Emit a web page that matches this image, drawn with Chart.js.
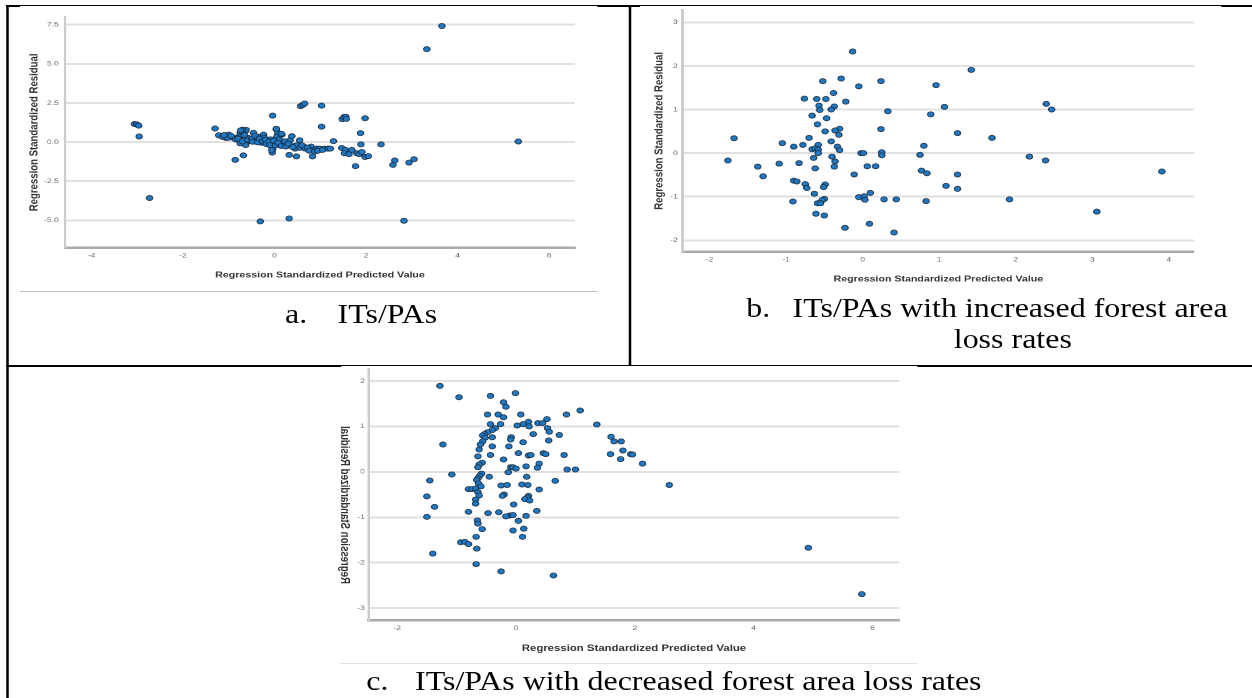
<!DOCTYPE html>
<html>
<head>
<meta charset="utf-8">
<script src="https://cdn.jsdelivr.net/npm/chart.js@4/dist/chart.umd.min.js"></script>
<style>
  body { margin: 0; background: #fff; }
  #page { position: absolute; left: 0; top: 0; width: 1002px; height: 698px; overflow: hidden;
          transform: scaleX(1.25); transform-origin: 0 0; }
  .line { position: absolute; }
  .black { background: #000; }
  .white { background: #fff; }
  canvas { position: absolute; }
  .cap { position: absolute; font-family: "Liberation Serif", "Times New Roman", serif; font-size: 27.5px;
         line-height: 30px; color: #000; white-space: nowrap;
         transform: scaleX(0.93); transform-origin: 0 0; }
  #titleC { position: absolute; font-family: "Liberation Sans", Arial, sans-serif; font-weight: bold;
            font-size: 9.6px; color: #333; white-space: nowrap;
            transform: translate(-50%, -50%) scaleX(-1) rotate(-90deg); }
</style>
</head>
<body>
<div id="page">
  <!-- table borders -->
  <div class="line black" style="left:5px;top:5px;width:997px;height:2px"></div>
  <div class="line white" style="left:16px;top:6px;width:462px;height:1px"></div>
  <div class="line white" style="left:512px;top:6px;width:465px;height:1px"></div>
  <div class="line black" style="left:5px;top:5px;width:1.6px;height:693px"></div>
  <div class="line black" style="left:503px;top:5px;width:1.6px;height:362px"></div>
  <div class="line black" style="left:5px;top:365px;width:997px;height:2px"></div>
  <div class="line white" style="left:273px;top:366px;width:461px;height:1px"></div>

  <canvas id="chartA"></canvas>
  <canvas id="chartB"></canvas>
  <canvas id="chartC"></canvas>

  <div class="line" style="left:16px;top:291px;width:462px;height:1px;background:#bdbdbd"></div>
  <div class="line" style="left:272px;top:663px;width:462px;height:1px;background:#e2e2e2"></div>

  <div id="titleC" style="left:276px;top:505px">Regression Standardized Residual</div>

  <span class="cap" style="left:228px;top:299px">a.</span>
  <span class="cap" style="left:270px;top:299px">ITs/PAs</span>
  <span class="cap" style="left:597px;top:293px">b.</span>
  <span class="cap" style="left:634px;top:293px">ITs/PAs with increased forest area</span>
  <span class="cap" style="left:763px;top:324px">loss rates</span>
  <span class="cap" style="left:293px;top:666px">c.</span>
  <span class="cap" style="left:332px;top:666px">ITs/PAs with decreased forest area loss rates</span>
</div>

<script>
// a. ITs/PAs  [predicted, residual]
const pointsA = [
  [3.66, 7.42], [3.33, 5.94], [5.33, 0.04], [-3.06, 1.16], [-3.01, 1.13], [-2.97, 1.05],
  [-2.96, 0.36], [-2.73, -3.57], [-0.31, -5.07], [0.32, -4.88], [2.83, -5.03], [0.57, 2.30],
  [0.62, 2.38], [0.66, 2.47], [1.03, 2.33], [-0.04, 1.69], [1.03, 0.99], [1.48, 1.47],
  [1.52, 1.60], [1.56, 1.62], [1.57, 1.48], [1.98, 1.52], [1.88, 0.57], [1.89, -0.15],
  [2.33, -0.15], [1.77, -1.54], [2.59, -1.46], [2.63, -1.18], [2.94, -1.31], [3.05, -1.10],
  [1.98, -0.95], [2.05, -0.90], [-0.86, -1.14], [-0.68, -0.85], [0.32, -0.82], [0.48, -0.91],
  [0.83, -0.91],
  [-1.30, 0.87], [-1.22, 0.44], [-1.14, 0.33], [-1.06, 0.27], [-1.00, 0.48], [-1.02, 0.27],
  [-0.90, 0.27], [-0.85, 0.17], [-0.79, 0.33], [-0.75, 0.59], [-0.71, 0.69], [-0.64, 0.69],
  [-0.73, 0.33], [-0.68, 0.17], [-0.64, 0.33], [-0.60, 0.07], [-0.75, -0.08], [-0.63, -0.19],
  [-0.57, 0.27], [-0.53, 0.07], [-0.46, 0.59], [-0.44, 0.27], [-0.39, 0.12], [-0.35, 0.33],
  [-0.31, 0.12], [-0.28, -0.04], [-0.24, 0.48], [-0.22, 0.27], [-0.17, 0.07], [-0.13, -0.08],
  [-0.09, 0.17], [-0.06, -0.21], [-0.04, -0.46], [-0.05, -0.67], [0.00, 0.00], [0.04, 0.82],
  [0.07, 0.59], [0.05, 0.33], [0.10, 0.17], [0.16, 0.48], [0.12, -0.14], [0.20, -0.14],
  [0.27, -0.21], [0.34, 0.12], [0.38, 0.38], [0.42, -0.25], [0.45, -0.42], [0.49, -0.21],
  [0.55, 0.12], [0.56, -0.36], [0.64, -0.29], [0.67, -0.42], [0.80, -0.29], [0.82, -0.50],
  [0.92, -0.42], [0.99, -0.42], [1.09, -0.42], [1.17, -0.42], [1.22, -0.42], [1.29, 0.06],
  [1.47, -0.38], [1.55, -0.50], [1.53, -0.71], [1.63, -0.77], [1.69, -0.50], [1.80, -0.71],
  [1.85, -0.77], [1.91, -0.63],
  [-0.80, 0.22], [-0.70, 0.05], [-0.66, 0.45], [-0.58, 0.15], [-0.50, 0.20], [-0.48, 0.02],
  [-0.42, 0.40], [-0.37, -0.02], [-0.33, 0.22], [-0.26, 0.05], [-0.20, 0.15], [-0.18, -0.12],
  [-0.12, 0.02], [-0.10, -0.20], [-0.02, 0.10], [0.02, -0.22], [0.08, -0.05], [0.15, -0.25],
  [0.22, 0.05], [0.25, -0.28], [0.30, -0.10], [0.40, -0.32], [0.60, -0.20], [0.72, -0.35],
  [0.76, -0.55], [0.88, -0.60], [0.95, -0.55], [1.05, -0.50], [-0.95, 0.40], [-1.10, 0.45],
  [-0.62, 0.78], [-0.70, 0.80], [-0.74, 0.75], [0.04, 0.85], [0.15, 0.53], [-0.06, -0.50]
];

// b. ITs/PAs with increased forest area loss rates
const pointsB = [
  [-0.13, 2.33], [1.42, 1.91], [-0.28, 1.71], [-0.52, 1.65], [0.24, 1.65], [-0.05, 1.53],
  [0.96, 1.56], [-0.38, 1.38], [-0.76, 1.25], [-0.60, 1.24], [-0.48, 1.24], [-0.22, 1.18],
  [-0.57, 1.09], [-0.37, 1.07], [1.07, 1.06], [2.40, 1.13], [2.47, 1.00], [-0.56, 0.99],
  [-0.41, 1.00], [0.33, 0.96], [0.89, 0.89], [-0.66, 0.86], [-0.47, 0.80], [-0.59, 0.66],
  [-0.30, 0.56], [-0.36, 0.52], [-0.49, 0.50], [0.24, 0.55], [-0.31, 0.42], [1.24, 0.46],
  [-1.68, 0.34], [-0.70, 0.35], [1.69, 0.35], [-0.41, 0.27], [-1.05, 0.23], [-0.90, 0.15],
  [-0.78, 0.19], [-0.58, 0.19], [-0.66, 0.09], [-0.62, 0.11], [-0.58, 0.08], [-0.33, 0.15],
  [-0.30, 0.07], [-0.58, 0.00], [0.80, 0.17], [-0.02, 0.00], [0.01, 0.00], [0.25, 0.02],
  [0.25, -0.05], [0.75, -0.04], [-0.40, -0.08], [-0.64, -0.11], [-1.76, -0.17], [2.18, -0.08],
  [2.39, -0.17], [-0.36, -0.19], [-1.09, -0.24], [-0.83, -0.23], [-1.37, -0.31], [-0.37, -0.31],
  [0.06, -0.30], [0.17, -0.30], [-0.62, -0.35], [0.77, -0.40], [0.84, -0.46], [-1.30, -0.53],
  [-0.11, -0.49], [1.24, -0.49], [3.91, -0.42], [-0.90, -0.63], [-0.86, -0.65], [-0.75, -0.71],
  [-0.49, -0.72], [-0.73, -0.80], [-0.51, -0.78], [1.09, -0.75], [1.24, -0.82], [-0.63, -0.93],
  [0.10, -0.91], [-0.05, -1.01], [0.02, -0.99], [0.03, -1.07], [-0.50, -1.05], [-0.53, -1.08],
  [0.28, -1.06], [0.44, -1.06], [1.92, -1.06], [-0.91, -1.11], [-0.59, -1.15], [-0.55, -1.15],
  [0.83, -1.10], [3.06, -1.34], [-0.61, -1.39], [-0.50, -1.43], [0.09, -1.62], [-0.23, -1.71],
  [0.41, -1.82]
];

// c. ITs/PAs with decreased forest area loss rates
const pointsC = [
  [-1.28, 1.89], [-0.96, 1.64], [-0.43, 1.67], [-0.01, 1.73], [-0.21, 1.53], [-0.17, 1.43],
  [1.08, 1.35], [-0.48, 1.26], [-0.30, 1.26], [0.08, 1.26], [0.85, 1.26], [-0.21, 1.20],
  [0.52, 1.16], [0.21, 1.10], [0.37, 1.07], [0.45, 1.07], [-0.43, 1.05], [-0.26, 1.05],
  [0.12, 1.05], [1.36, 1.04], [0.02, 1.02], [0.22, 1.00], [0.53, 0.96], [-0.35, 0.96],
  [-0.40, 0.92], [0.56, 0.88], [-0.48, 0.87], [-0.53, 0.83], [-0.56, 0.80], [0.73, 0.81],
  [0.29, 0.83], [1.60, 0.77], [-0.08, 0.76], [-0.40, 0.76], [-0.52, 0.75], [-0.09, 0.71],
  [1.65, 0.67], [1.77, 0.67], [-0.56, 0.67], [0.55, 0.69], [0.12, 0.65], [-0.60, 0.60],
  [-1.23, 0.60], [-0.40, 0.56], [-0.12, 0.56], [-0.62, 0.49], [1.80, 0.47], [0.04, 0.41],
  [0.46, 0.41], [0.50, 0.39], [1.59, 0.39], [1.93, 0.39], [1.96, 0.38], [0.21, 0.36],
  [0.25, 0.37], [0.81, 0.37], [-0.43, 0.37], [-0.64, 0.34], [0.39, 0.18], [1.76, 0.28],
  [-0.21, 0.27], [-0.57, 0.20], [2.13, 0.18], [-0.62, 0.16], [0.17, 0.12], [-0.64, 0.10],
  [-0.09, 0.10], [-0.05, 0.10], [0.00, 0.07], [0.36, 0.09], [0.86, 0.05], [1.00, 0.05],
  [-0.13, -0.01], [-1.08, -0.06], [-0.58, -0.04], [-0.61, -0.09], [-0.45, -0.11], [-0.64, -0.14],
  [0.18, -0.11], [-0.66, -0.18], [-1.45, -0.19], [0.66, -0.20], [2.58, -0.29], [-0.25, -0.30],
  [-0.15, -0.29], [0.10, -0.28], [0.20, -0.29], [-0.63, -0.26], [-0.59, -0.32], [-0.80, -0.38],
  [-0.74, -0.38], [-0.68, -0.37], [0.39, -0.39], [-0.64, -0.45], [-0.20, -0.50], [-0.23, -0.53],
  [-1.50, -0.54], [0.21, -0.53], [-0.62, -0.52], [0.19, -0.57], [0.15, -0.60], [0.23, -0.63],
  [-0.68, -0.61], [-0.68, -0.70], [-0.04, -0.72], [-1.37, -0.77], [-0.80, -0.88], [-0.47, -0.91],
  [-0.29, -0.89], [0.35, -0.86], [-0.11, -0.96], [-0.05, -0.95], [-0.17, -0.98], [0.17, -0.97],
  [-1.50, -0.99], [0.04, -1.08], [-0.65, -1.07], [-0.64, -1.14], [0.13, -1.25], [-0.57, -1.26],
  [-0.05, -1.29], [0.11, -1.43], [-0.67, -1.43], [-0.93, -1.55], [-0.86, -1.54], [-0.80, -1.59],
  [-0.66, -1.69], [-1.40, -1.80], [4.92, -1.67], [-0.67, -2.03], [-0.25, -2.19], [0.63, -2.28],
  [5.82, -2.69]
];

const xTitle = 'Regression Standardized Predicted Value';
const yTitle = 'Regression Standardized Residual';

Chart.defaults.font.family = '"Liberation Sans", Arial, sans-serif';
Chart.defaults.animation = false;

const tickFont = { size: 6.8 };

function makeScatter(id, box, points, cfg) {
  const canvas = document.getElementById(id);
  canvas.style.left = box.left + 'px';
  canvas.style.top = box.top + 'px';
  canvas.width = box.width;
  canvas.height = box.height;

  const xFont = { size: cfg.xTitleSize, weight: 'bold' };
  const yFont = { size: 9.6, weight: 'bold' };

  return new Chart(canvas, {
    type: 'scatter',
    data: {
      datasets: [{
        data: points.map(p => ({ x: p[0], y: p[1] })),
        pointRadius: 2.6,
        pointBackgroundColor: '#1f78c4',
        pointBorderColor: 'rgba(25, 40, 55, 0.9)',
        pointBorderWidth: 0.8
      }]
    },
    options: {
      responsive: false,
      devicePixelRatio: 2,
      layout: { padding: { top: cfg.padTop, right: cfg.padRight, left: 0, bottom: 0 } },
      plugins: { legend: { display: false }, tooltip: { enabled: false } },
      scales: {
        x: {
          type: 'linear',
          min: cfg.xMin, max: cfg.xMax,
          afterFit: s => { s.height = cfg.xHeight; },
          ticks: { stepSize: cfg.xStep, includeBounds: false, color: '#666', font: tickFont,
                   padding: 4, maxRotation: 0, autoSkip: false },
          grid: { display: false, drawTicks: false },
          border: { display: true, color: '#ababab', width: 2.5 },
          title: { display: true, text: xTitle, color: '#333', font: xFont,
                   padding: { top: 0, bottom: 7.9 } }
        },
        y: {
          type: 'linear',
          min: cfg.yMin, max: cfg.yMax,
          afterFit: s => { s.width = cfg.yWidth; },
          ticks: { stepSize: cfg.yStep, includeBounds: false, color: '#666', font: tickFont,
                   padding: cfg.yTickPad, callback: cfg.yFormat },
          grid: { color: '#e0e0e0', lineWidth: 2, drawTicks: false },
          border: { display: true, color: '#cccccc', width: 2 },
          title: { display: cfg.yTitle, text: yTitle, color: '#333', font: yFont,
                   padding: { top: cfg.yTitlePad, bottom: 0 } }
        }
      }
    }
  });
}

makeScatter('chartA', { left: 16, top: 8, width: 464, height: 280 }, pointsA, {
  xMin: -4.58, xMax: 6.57, xStep: 2, yMin: -6.75, yMax: 7.99, yStep: 2.5,
  padTop: 7, padRight: 20, xHeight: 40.3, yWidth: 36, yTickPad: 5, xTitleSize: 8.5,
  yTitle: true, yTitlePad: 5.4, yFormat: v => v.toFixed(1)
});

makeScatter('chartB', { left: 512, top: 2, width: 472, height: 290 }, pointsB, {
  xMin: -2.35, xMax: 4.33, xStep: 1, yMin: -2.26, yMax: 3.28, yStep: 1,
  padTop: 6.3, padRight: 28.8, xHeight: 40.3, yWidth: 34.2, yTickPad: 4, xTitleSize: 8.5,
  yTitle: true, yTitlePad: 9.4, yFormat: v => String(v)
});

makeScatter('chartC', { left: 272, top: 362, width: 462, height: 300 }, pointsC, {
  xMin: -2.48, xMax: 6.45, xStep: 2, yMin: -3.26, yMax: 2.26, yStep: 1,
  padTop: 6.3, padRight: 14.6, xHeight: 42, yWidth: 22.9, yTickPad: 3, xTitleSize: 9.1,
  yTitle: false, yTitlePad: 0, yFormat: v => String(v)
});
</script>
</body>
</html>
